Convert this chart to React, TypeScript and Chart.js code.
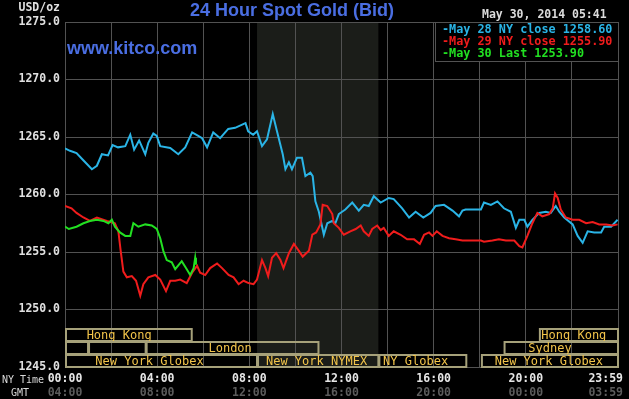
import React, { useEffect, useRef } from "react";
import { Chart, registerables } from "chart.js";

Chart.register(...registerables);

// ---- data (minutes after 00:00 NY time, USD/oz) ----
const may28Times = [0, 13, 30, 47, 70, 83, 96, 112, 124, 138, 157, 170, 180, 193, 209, 217, 230, 239, 248, 274, 295, 313, 331, 347, 357, 370, 386, 404, 425, 443, 470, 477, 490, 500, 513, 526, 541, 552, 567, 574, 583, 591, 604, 617, 626, 639, 645, 652, 661, 674, 683, 696, 704, 713, 730, 748, 765, 778, 791, 804, 822, 843, 856, 878, 896, 913, 933, 952, 965, 987, 1009, 1026, 1035, 1043, 1083, 1091, 1109, 1126, 1143, 1161, 1174, 1183, 1196, 1204, 1217, 1235, 1252, 1265, 1278, 1287, 1300, 1322, 1335, 1348, 1361, 1378, 1396, 1404, 1422, 1439];
const may28Values = [1264.0, 1263.8, 1263.6, 1263.0, 1262.2, 1262.5, 1263.5, 1263.4, 1264.3, 1264.1, 1264.2, 1265.2, 1263.9, 1264.7, 1263.5, 1264.5, 1265.3, 1265.1, 1264.2, 1264.05, 1263.5, 1264.1, 1265.4, 1265.1, 1264.9, 1264.1, 1265.4, 1264.9, 1265.7, 1265.8, 1266.2, 1265.5, 1265.2, 1265.5, 1264.2, 1264.8, 1267.0, 1265.5, 1263.5, 1262.2, 1262.8, 1262.2, 1263.2, 1263.2, 1261.6, 1261.9, 1261.6, 1259.4, 1258.5, 1256.5, 1257.5, 1257.7, 1257.5, 1258.3, 1258.7, 1259.3, 1258.6, 1259.1, 1259.0, 1259.85, 1259.3, 1259.7, 1259.6, 1258.8, 1258.0, 1258.5, 1258.0, 1258.4, 1259.0, 1259.1, 1258.6, 1258.1, 1258.6, 1258.7, 1258.7, 1259.3, 1259.1, 1259.4, 1258.8, 1258.5, 1257.1, 1257.8, 1257.8, 1257.2, 1257.8, 1258.4, 1258.5, 1258.4, 1259.0, 1258.5, 1258.0, 1257.4, 1256.4, 1255.8, 1256.8, 1256.7, 1256.7, 1257.2, 1257.2, 1257.8];

const may29Times = [0, 17, 30, 48, 65, 83, 109, 130, 139, 145, 152, 161, 174, 185, 196, 204, 217, 235, 248, 263, 274, 287, 300, 317, 331, 344, 352, 365, 378, 396, 409, 426, 439, 452, 465, 478, 491, 500, 513, 522, 529, 539, 550, 561, 569, 583, 596, 609, 619, 635, 644, 654, 665, 671, 683, 696, 700, 713, 726, 743, 757, 770, 778, 791, 800, 813, 822, 830, 843, 856, 874, 891, 909, 924, 935, 948, 957, 968, 983, 1000, 1017, 1035, 1043, 1083, 1091, 1113, 1130, 1148, 1170, 1183, 1191, 1204, 1217, 1230, 1243, 1261, 1270, 1276, 1283, 1291, 1304, 1322, 1339, 1357, 1374, 1391, 1409, 1426, 1439];
const may29Values = [1259.0, 1258.8, 1258.4, 1258.0, 1257.7, 1258.0, 1257.7, 1257.5, 1256.8, 1255.1, 1253.3, 1252.8, 1252.9, 1252.5, 1251.2, 1252.2, 1252.8, 1253.0, 1252.6, 1251.6, 1252.5, 1252.5, 1252.6, 1252.3, 1253.2, 1253.8, 1253.2, 1253.0, 1253.6, 1254.0, 1253.6, 1253.0, 1252.8, 1252.2, 1252.5, 1252.3, 1252.2, 1252.6, 1254.3, 1253.6, 1252.9, 1254.5, 1254.9, 1254.3, 1253.6, 1254.9, 1255.7, 1255.1, 1254.6, 1255.1, 1256.5, 1256.7, 1257.4, 1259.1, 1259.0, 1258.3, 1257.5, 1257.1, 1256.5, 1256.8, 1257.0, 1257.3, 1256.8, 1256.4, 1257.0, 1257.3, 1256.9, 1257.1, 1256.4, 1256.8, 1256.5, 1256.1, 1256.1, 1255.7, 1256.5, 1256.7, 1256.4, 1256.8, 1256.4, 1256.2, 1256.1, 1256.0, 1256.0, 1256.0, 1255.9, 1256.0, 1256.1, 1256.0, 1256.0, 1255.5, 1255.4, 1256.4, 1257.5, 1258.4, 1258.1, 1258.3, 1258.8, 1260.1, 1259.7, 1258.7, 1258.0, 1257.8, 1257.8, 1257.5, 1257.6, 1257.4, 1257.4, 1257.3, 1257.4];

const may30Times = [0, 10, 30, 48, 65, 83, 100, 113, 122, 130, 143, 157, 170, 178, 191, 209, 226, 239, 248, 256, 265, 278, 287, 304, 317, 326, 335, 339, 341];
const may30Values = [1257.2, 1257.0, 1257.2, 1257.5, 1257.7, 1257.8, 1257.7, 1257.5, 1257.8, 1257.2, 1256.7, 1256.4, 1256.4, 1257.5, 1257.2, 1257.4, 1257.3, 1257.0, 1256.2, 1255.1, 1254.3, 1254.1, 1253.5, 1254.2, 1253.5, 1253.0, 1253.6, 1254.5, 1253.9];

const legendLabels = ["-May 28 NY close 1258.60", "-May 29 NY close 1255.90", "-May 30 Last 1253.90"];

const nyTickMinutes = [0, 240, 480, 720, 960, 1200, 1439];
const nyTickLabels = ["00:00", "04:00", "08:00", "12:00", "16:00", "20:00", "23:59"];
const gmtTickLabels = ["04:00", "08:00", "12:00", "16:00", "20:00", "00:00", "03:59"];

const nymexStart = 500;
const nymexEnd = 816;

const sessionLabels = ["Hong Kong", "Hong Kong", "", "", "London", "Sydney", "New York Globex", "New York NYMEX", "NY Globex", "New York Globex"];
const sessionStart = [0, 1234, 0, 60, 210, 1142, 0, 500, 816, 1083];
const sessionEnd = [330, 1440, 60, 210, 660, 1440, 500, 816, 1045, 1440];
const sessionRow = [0, 0, 1, 1, 1, 1, 2, 2, 2, 2];
const sessionLabelAt = [141, 1325, -1, -1, 430, 1263, 220, 655, 913, 1260];

const titleText = "24 Hour Spot Gold (Bid)";
const dateText = "May 30, 2014 05:41";
const siteText = "www.kitco.com";
const unitText = "USD/oz";

const MONO = "'DejaVu Sans Mono', monospace";
const SANS = "'Liberation Sans', Arial, sans-serif";
const COLORS = ["#2ab4e6", "#f01c1c", "#22e022"];
const GRID = "#525252";

function toPoints(t: number[], v: number[]) {
  return t.map((x, i) => ({ x, y: v[i] }));
}

const decorPlugin = {
  id: "kitcoDecor",
  beforeDraw(chart: any) {
    const { ctx, chartArea, scales } = chart;
    ctx.save();
    ctx.fillStyle = "#000";
    ctx.fillRect(0, 0, chart.width, chart.height);
    const x0 = scales.x.getPixelForValue(nymexStart);
    const x1 = scales.x.getPixelForValue(nymexEnd);
    ctx.fillStyle = "#1b1d19";
    ctx.fillRect(x0, chartArea.top, x1 - x0, chartArea.bottom - chartArea.top);
    ctx.restore();
  },
  afterDatasetsDraw(chart: any) {
    const { ctx, chartArea, scales } = chart;
    const rowH = 13;
    ctx.save();
    for (let i = 0; i < sessionLabels.length; i++) {
      const xa = scales.x.getPixelForValue(sessionStart[i]);
      const xb = Math.min(scales.x.getPixelForValue(sessionEnd[i]), chartArea.right);
      const top = chartArea.bottom - rowH * (3 - sessionRow[i]);
      ctx.strokeStyle = "#a6a17a";
      ctx.lineWidth = 2;
      ctx.strokeRect(xa + 1, top + 1, xb - xa - 1, rowH - 1);
      if (sessionLabels[i]) {
        ctx.fillStyle = "#f2c44a";
        ctx.font = `12px ${MONO}`;
        ctx.textAlign = "center";
        ctx.textBaseline = "middle";
        ctx.fillText(sessionLabels[i], scales.x.getPixelForValue(sessionLabelAt[i]), top + rowH / 2 + 1);
      }
    }
    ctx.restore();
  },
  afterDraw(chart: any) {
    const { ctx, chartArea, scales } = chart;
    ctx.save();
    // legend box
    const lw = 184, lh = 39;
    const lx = chartArea.right - lw + 1;
    const ly = chartArea.top;
    ctx.fillStyle = "#000";
    ctx.fillRect(lx, ly, lw, lh);
    ctx.strokeStyle = GRID;
    ctx.lineWidth = 1;
    ctx.strokeRect(lx + 0.5, ly + 0.5, lw - 1, lh);
    ctx.font = `bold 11.8px ${MONO}`;
    ctx.textAlign = "left";
    ctx.textBaseline = "middle";
    legendLabels.forEach((t, i) => {
      ctx.fillStyle = COLORS[i];
      ctx.fillText(t, lx + 7, ly + 7.5 + i * 12.3);
    });
    // title & texts
    ctx.fillStyle = "#4a6ee2";
    ctx.font = `bold 18px ${SANS}`;
    ctx.textBaseline = "middle";
    ctx.fillText(titleText, 190, 11);
    ctx.fillText(siteText, 67, 49);
    ctx.fillStyle = "#dcdcdc";
    ctx.font = `bold 11.5px ${MONO}`;
    ctx.fillText(dateText, 482, 15);
    ctx.textAlign = "right";
    ctx.fillStyle = "#e0e0e0";
    ctx.fillText(unitText, 60, 8);
    // x labels
    ctx.textAlign = "center";
    nyTickMinutes.forEach((m, i) => {
      let px = scales.x.getPixelForValue(m);
      ctx.font = `bold 11.5px ${MONO}`;
      const w = ctx.measureText(nyTickLabels[i]).width;
      if (px + w / 2 > chart.width - 6) px = chart.width - 6 - w / 2;
      ctx.fillStyle = "#e6e6e6";
      ctx.fillText(nyTickLabels[i], px, 379);
      ctx.fillStyle = "#5c5c5c";
      ctx.fillText(gmtTickLabels[i], px, 393);
    });
    ctx.font = `10px ${MONO}`;
    ctx.fillStyle = "#d8d8d8";
    ctx.textAlign = "left";
    ctx.fillText("NY Time", 2, 380);
    ctx.fillText("GMT", 11, 393);
    ctx.restore();
  },
};

export default function App() {
  const ref = useRef<HTMLCanvasElement | null>(null);
  useEffect(() => {
    if (!ref.current) return;
    const chart = new Chart(ref.current, {
      type: "line",
      data: {
        datasets: [
          { label: "May 30", data: toPoints(may30Times, may30Values), borderColor: COLORS[2] },
          { label: "May 29", data: toPoints(may29Times, may29Values), borderColor: COLORS[1] },
          { label: "May 28", data: toPoints(may28Times, may28Values), borderColor: COLORS[0] },
        ].map((d) => ({ ...d, borderWidth: 2, pointRadius: 0, tension: 0, fill: false })),
      },
      options: {
        animation: false,
        responsive: false,
        devicePixelRatio: 1,
        layout: { padding: { top: 22, right: 11, left: 0, bottom: 0 } },
        plugins: { legend: { display: false }, tooltip: { enabled: false }, title: { display: false } },
        scales: {
          x: {
            type: "linear",
            min: 0,
            max: 1440,
            afterFit: (s: any) => { s.height = 32; },
            ticks: { display: false, stepSize: 120 },
            grid: { color: GRID, drawTicks: false, tickLength: 0 },
            border: { color: GRID },
          },
          y: {
            min: 1245,
            max: 1275,
            afterFit: (s: any) => { s.width = 65; },
            ticks: {
              stepSize: 5,
              padding: 5,
              color: "#e0e0e0",
              font: { family: MONO, size: 11.5, weight: "bold" },
              callback: (v: any) => Number(v).toFixed(1),
            },
            grid: { color: GRID, drawTicks: false, tickLength: 0 },
            border: { color: GRID },
          },
        },
      },
      plugins: [decorPlugin],
    } as any);
    return () => chart.destroy();
  }, []);
  return (
    <div style={{ position: "fixed", left: 0, top: 0, width: 629, height: 399, background: "#000" }}>
      <canvas ref={ref} width={629} height={399} style={{ display: "block" }} />
    </div>
  );
}
